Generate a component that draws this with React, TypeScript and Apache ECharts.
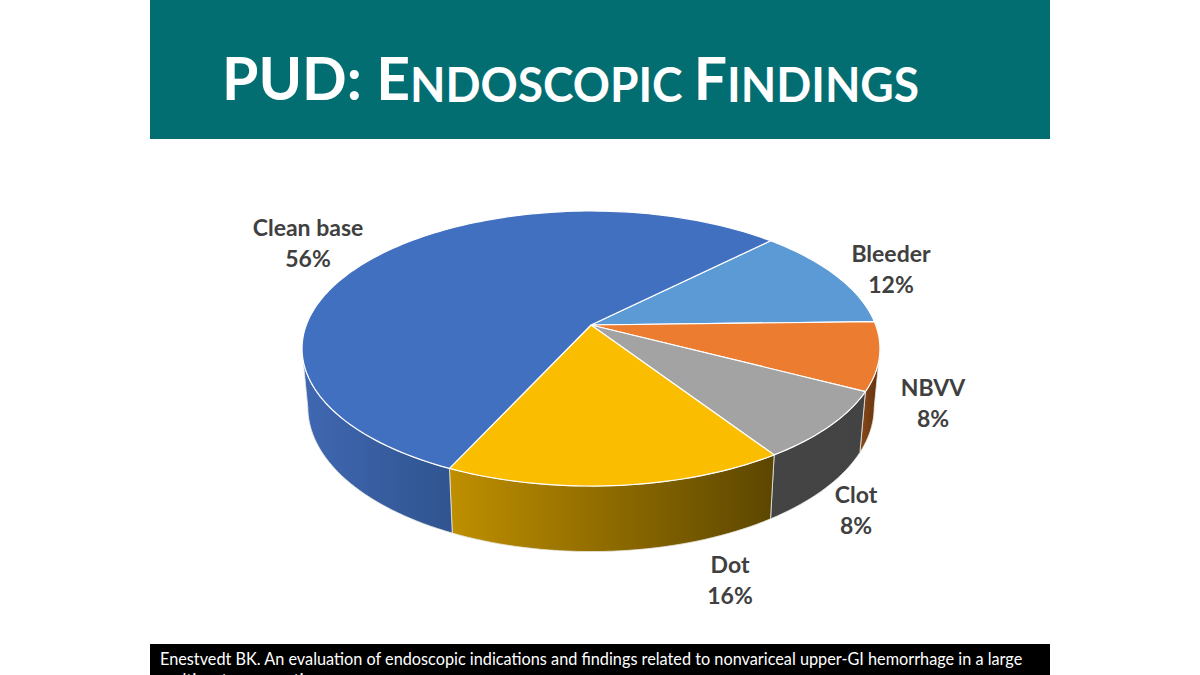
import React, { useEffect, useRef } from "react";
import * as echarts from "echarts";

const categories = ["Bleeder", "NBVV", "Clot", "Dot", "Clean base"];
const values = [12.1, 8.0, 8.1, 16.2, 55.6];
const topColors = ["#5b9ad5", "#eb7c30", "#a3a3a3", "#fbbd00", "#4270c0"];
const wallStops = [
  ["#3f75a5", "#2f5f8a"],
  ["#8a4a1c", "#5f2f0c"],
  ["#444444", "#434343"],
  ["#bf8f00", "#5c4600"],
  ["#4068b2", "#30548f"],
];
const titleText = "{a|PUD: E}{b|NDOSCOPIC\u00a0}{a|F}{b|INDINGS}";
const footerLines = [
  "Enestvedt BK. An evaluation of endoscopic indications and findings related to nonvariceal upper-GI hemorrhage in a large",
  "multicenter consortium.",
];
const labelAnchors = [
  [891, 268],
  [933, 402],
  [856, 509],
  [730, 579],
  [308, 242],
];

const START_DEG = 45;
const CX = 591;
const CY = 325;
const A = 284.7;
const B = 133.5;
const K = 0.171;
const VIS_MIN = 100;
const VIS_MAX = 260;

function topPoint(deg: number): number[] {
  const t = (deg * Math.PI) / 180;
  const u = Math.sin(t);
  const v = Math.cos(t);
  const w = 1 + K * v;
  return [CX + (A * u) / w, CY - (B * v) / w];
}
function bottomPoint(deg: number): number[] {
  const p = topPoint(deg);
  return [CX + (p[0] - CX) * 0.98, CY + (p[1] - CY) * 1.05 + 57.5];
}
function arc(from: number, to: number, fn: (d: number) => number[]) {
  const n = Math.max(2, Math.ceil(Math.abs(to - from) / 1.5));
  const pts: number[][] = [];
  for (let i = 0; i <= n; i++) pts.push(fn(from + ((to - from) * i) / n));
  return pts;
}

const total = values.reduce((s, v) => s + v, 0);

function renderItem(params: any, api: any) {
  const i = params.dataIndex;
  const val = api.value(0);
  let before = 0;
  for (let k = 0; k < i; k++) before += values[k];
  const a0 = START_DEG + (before / total) * 360;
  const a1 = a0 + (val / total) * 360;
  const children: any[] = [];
  const w0 = Math.max(a0, VIS_MIN);
  const w1 = Math.min(a1, VIS_MAX);
  if (w1 > w0) {
    const topArc = arc(w0, w1, topPoint);
    const botArc = arc(w1, w0, bottomPoint);
    const xs = topArc.concat(botArc).map((p) => p[0]);
    const minX = Math.min(...xs);
    const maxX = Math.max(...xs);
    children.push({
      type: "polygon",
      z2: 1,
      shape: { points: topArc.concat(botArc) },
      style: {
        fill: {
          type: "linear",
          global: true,
          x: minX,
          y: 0,
          x2: maxX,
          y2: 0,
          colorStops: [
            { offset: 0, color: wallStops[i][0] },
            { offset: 1, color: wallStops[i][1] },
          ],
        },
        stroke: "#e9e9e4",
        lineWidth: 0.8,
      },
    });
  }
  children.push({
    type: "polygon",
    z2: 2,
    shape: { points: [[CX, CY]].concat(arc(a0, a1, topPoint)) },
    style: { fill: topColors[i], stroke: "#ffffff", lineWidth: 1.2, lineJoin: "round" },
  });
  children.push({
    type: "text",
    z2: 3,
    x: labelAnchors[i][0],
    y: labelAnchors[i][1],
    style: {
      text: `${api.value(1)}\n${Math.round(val)}%`,
      fill: "#404040",
      font: "bold 23px Lato",
      align: "center",
      verticalAlign: "middle",
      lineHeight: 31,
    },
  });
  return { type: "group", children };
}

export default function App() {
  const ref = useRef<HTMLDivElement>(null);
  useEffect(() => {
    document.body.style.margin = "0";
    const chart = echarts.init(ref.current!, null, { renderer: "svg" });
    chart.setOption({
      animation: false,
      backgroundColor: "#ffffff",
      graphic: [
        {
          type: "rect",
          z: 0,
          shape: { x: 150, y: 0, width: 900, height: 139 },
          style: { fill: "#036e72" },
        },
        {
          type: "text",
          z: 1,
          x: 222,
          y: 77,
          scaleX: 0.98,
          style: {
            text: titleText,
            verticalAlign: "middle",
            align: "left",
            fill: "#ffffff",
            rich: {
              a: { fontFamily: "Lato", fontWeight: "bold", fontSize: 60, fill: "#ffffff", color: "#ffffff", verticalAlign: "bottom" },
              b: { fontFamily: "Lato", fontWeight: "bold", fontSize: 47, fill: "#ffffff", color: "#ffffff", verticalAlign: "bottom" },
            },
          },
        },
        {
          type: "rect",
          z: 0,
          shape: { x: 150, y: 644, width: 900, height: 31 },
          style: { fill: "#000000" },
        },
        {
          type: "text",
          z: 1,
          x: 160,
          y: 659,
          scaleX: 0.957,
          style: {
            text: footerLines[0],
            fill: "#ffffff",
            font: "17px Lato",
            verticalAlign: "middle",
          },
        },
        {
          type: "text",
          z: 1,
          x: 160,
          y: 680,
          scaleX: 0.957,
          style: {
            text: footerLines[1],
            fill: "#ffffff",
            font: "17px Lato",
            verticalAlign: "middle",
          },
        },
      ],
      series: [
        {
          type: "custom",
          coordinateSystem: "none",
          renderItem,
          encode: {},
          data: values.map((v, i) => [v, categories[i]]),
          dimensions: [{ name: "value", type: "number" }, { name: "name", type: "ordinal" }],
          silent: true,
        },
      ],
    });
    return () => chart.dispose();
  }, []);
  return <div ref={ref} style={{ width: 1200, height: 675, position: "fixed", left: 0, top: 0 }} />;
}
